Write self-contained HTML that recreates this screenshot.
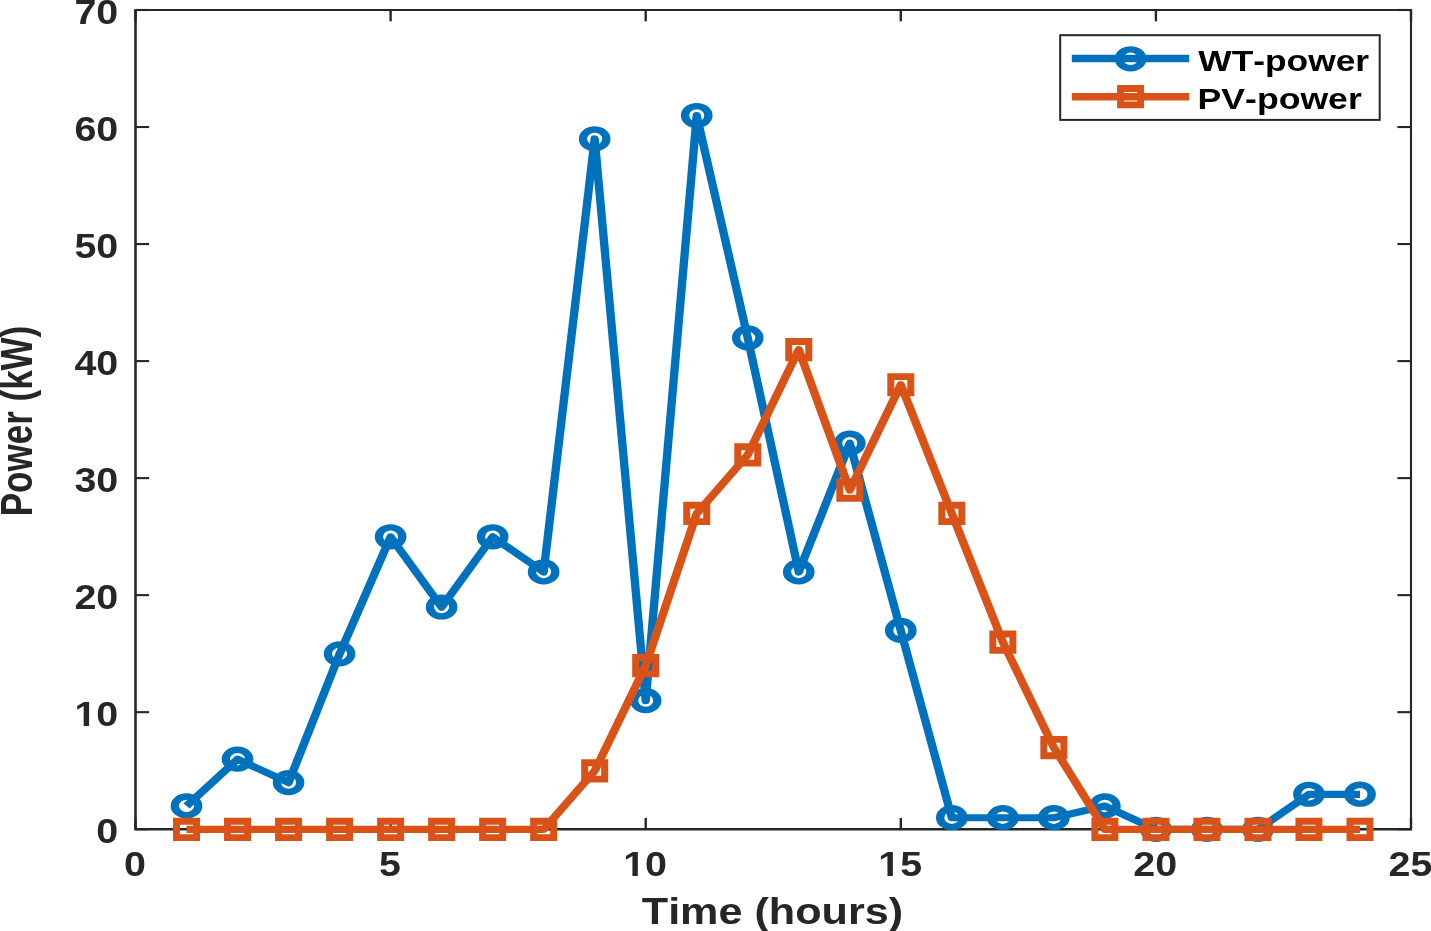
<!DOCTYPE html>
<html lang="en"><head><meta charset="utf-8"><title>WT-power and PV-power</title>
<style>html,body{margin:0;padding:0;background:#fff;overflow:hidden}svg{display:block}</style></head>
<body>
<svg width="1431" height="931" viewBox="0 0 1431 931">
<rect x="0" y="0" width="1431" height="931" fill="#ffffff"/>
<g stroke="#262626" fill="none" stroke-linecap="butt">
<line x1="134.25" y1="10.0" x2="1412.0" y2="10.0" stroke-width="2.2"/>
<line x1="134.25" y1="829.2" x2="1412.0" y2="829.2" stroke-width="2.5"/>
<line x1="135.5" y1="10.0" x2="135.5" y2="829.2" stroke-width="2.6"/>
<line x1="1411.0" y1="10.0" x2="1411.0" y2="829.2" stroke-width="2.1"/>
<line x1="135.50" y1="829.2" x2="135.50" y2="817.9000000000001" stroke-width="2.4"/>
<line x1="135.50" y1="10.0" x2="135.50" y2="21.3" stroke-width="2.4"/>
<line x1="390.60" y1="829.2" x2="390.60" y2="817.9000000000001" stroke-width="2.4"/>
<line x1="390.60" y1="10.0" x2="390.60" y2="21.3" stroke-width="2.4"/>
<line x1="645.70" y1="829.2" x2="645.70" y2="817.9000000000001" stroke-width="2.4"/>
<line x1="645.70" y1="10.0" x2="645.70" y2="21.3" stroke-width="2.4"/>
<line x1="900.80" y1="829.2" x2="900.80" y2="817.9000000000001" stroke-width="2.4"/>
<line x1="900.80" y1="10.0" x2="900.80" y2="21.3" stroke-width="2.4"/>
<line x1="1155.90" y1="829.2" x2="1155.90" y2="817.9000000000001" stroke-width="2.4"/>
<line x1="1155.90" y1="10.0" x2="1155.90" y2="21.3" stroke-width="2.4"/>
<line x1="1411.00" y1="829.2" x2="1411.00" y2="817.9000000000001" stroke-width="2.4"/>
<line x1="1411.00" y1="10.0" x2="1411.00" y2="21.3" stroke-width="2.4"/>
<line x1="135.5" y1="829.20" x2="149.1" y2="829.20" stroke-width="2.1"/>
<line x1="1411.0" y1="829.20" x2="1397.4" y2="829.20" stroke-width="2.1"/>
<line x1="135.5" y1="712.17" x2="149.1" y2="712.17" stroke-width="2.1"/>
<line x1="1411.0" y1="712.17" x2="1397.4" y2="712.17" stroke-width="2.1"/>
<line x1="135.5" y1="595.14" x2="149.1" y2="595.14" stroke-width="2.1"/>
<line x1="1411.0" y1="595.14" x2="1397.4" y2="595.14" stroke-width="2.1"/>
<line x1="135.5" y1="478.11" x2="149.1" y2="478.11" stroke-width="2.1"/>
<line x1="1411.0" y1="478.11" x2="1397.4" y2="478.11" stroke-width="2.1"/>
<line x1="135.5" y1="361.09" x2="149.1" y2="361.09" stroke-width="2.1"/>
<line x1="1411.0" y1="361.09" x2="1397.4" y2="361.09" stroke-width="2.1"/>
<line x1="135.5" y1="244.06" x2="149.1" y2="244.06" stroke-width="2.1"/>
<line x1="1411.0" y1="244.06" x2="1397.4" y2="244.06" stroke-width="2.1"/>
<line x1="135.5" y1="127.03" x2="149.1" y2="127.03" stroke-width="2.1"/>
<line x1="1411.0" y1="127.03" x2="1397.4" y2="127.03" stroke-width="2.1"/>
<line x1="135.5" y1="10.00" x2="149.1" y2="10.00" stroke-width="2.1"/>
<line x1="1411.0" y1="10.00" x2="1397.4" y2="10.00" stroke-width="2.1"/>
</g>
<defs><clipPath id="nofoot" clipPathUnits="userSpaceOnUse"><rect x="-5" y="-45" width="24.58" height="40.88"/><rect x="8.22" y="-4.16" width="4.83" height="7.16"/><rect x="19.58" y="-45" width="58.73" height="60"/></clipPath></defs>
<g fill="#262626" font-family="Liberation Sans, Arial, Helvetica, sans-serif" font-weight="bold" font-size="35.2">
<g transform="translate(134.90 875.90) scale(1.12 1)"><g transform="translate(-9.79 0)"><text x="0" y="0">0</text></g></g>
<g transform="translate(390.00 875.90) scale(1.12 1)"><g transform="translate(-9.79 0)"><text x="0" y="0">5</text></g></g>
<g transform="translate(645.10 875.90) scale(1.12 1)"><g transform="translate(-19.58 0)" clip-path="url(#nofoot)"><text x="0" y="0">10</text></g></g>
<g transform="translate(900.20 875.90) scale(1.12 1)"><g transform="translate(-19.58 0)" clip-path="url(#nofoot)"><text x="0" y="0">15</text></g></g>
<g transform="translate(1155.30 875.90) scale(1.12 1)"><g transform="translate(-19.58 0)"><text x="0" y="0">20</text></g></g>
<g transform="translate(1410.40 875.90) scale(1.12 1)"><g transform="translate(-19.58 0)"><text x="0" y="0">25</text></g></g>
<g transform="translate(118.30 843.05) scale(1.12 1)"><g transform="translate(-19.58 0)"><text x="0" y="0">0</text></g></g>
<g transform="translate(118.30 726.02) scale(1.12 1)"><g transform="translate(-39.15 0)" clip-path="url(#nofoot)"><text x="0" y="0">10</text></g></g>
<g transform="translate(118.30 608.99) scale(1.12 1)"><g transform="translate(-39.15 0)"><text x="0" y="0">20</text></g></g>
<g transform="translate(118.30 491.96) scale(1.12 1)"><g transform="translate(-39.15 0)"><text x="0" y="0">30</text></g></g>
<g transform="translate(118.30 374.94) scale(1.12 1)"><g transform="translate(-39.15 0)"><text x="0" y="0">40</text></g></g>
<g transform="translate(118.30 257.91) scale(1.12 1)"><g transform="translate(-39.15 0)"><text x="0" y="0">50</text></g></g>
<g transform="translate(118.30 140.88) scale(1.12 1)"><g transform="translate(-39.15 0)"><text x="0" y="0">60</text></g></g>
<g transform="translate(118.30 23.85) scale(1.12 1)"><g transform="translate(-39.15 0)"><text x="0" y="0">70</text></g></g>
</g>
<g fill="#262626" font-family="Liberation Sans, Arial, Helvetica, sans-serif" font-weight="bold" font-size="35.0" style="font-kerning:none">
<text transform="translate(772.4 923.6) scale(1.233 1.07)" text-anchor="middle">Time (hours)</text>
<text transform="translate(31.9 421.0) scale(1.27 1) rotate(-90)" text-anchor="middle">Power (kW)</text>
</g>
<g transform="scale(1.16 1)"><polyline points="160.79,806.04 204.78,759.23 248.76,782.64 292.74,653.91 336.72,536.88 380.71,607.10 424.69,536.88 468.67,571.99 512.66,138.98 556.64,700.72 600.62,115.58 644.60,337.93 688.59,571.99 732.57,443.26 776.55,630.50 820.53,817.75 864.52,817.75 908.50,817.75 952.48,806.04 996.47,829.45 1040.45,829.45 1084.43,829.45 1128.41,794.34 1172.40,794.34" fill="none" stroke="#0072bd" stroke-width="7.2" stroke-linejoin="round" stroke-linecap="butt"/></g>
<path fill="#0072bd" fill-rule="evenodd" d="M170.67 805.94a15.85 12.6 0 1 0 31.7 0a15.85 12.6 0 1 0 -31.7 0zM179.02 805.94a7.5 6.25 0 1 0 15.0 0a7.5 6.25 0 1 0 -15.0 0z"/>
<path fill="#0072bd" fill-rule="evenodd" d="M221.69 759.13a15.85 12.6 0 1 0 31.7 0a15.85 12.6 0 1 0 -31.7 0zM230.04 759.13a7.5 6.25 0 1 0 15.0 0a7.5 6.25 0 1 0 -15.0 0z"/>
<path fill="#0072bd" fill-rule="evenodd" d="M272.71 782.54a15.85 12.6 0 1 0 31.7 0a15.85 12.6 0 1 0 -31.7 0zM281.06 782.54a7.5 6.25 0 1 0 15.0 0a7.5 6.25 0 1 0 -15.0 0z"/>
<path fill="#0072bd" fill-rule="evenodd" d="M323.73 653.81a15.85 12.6 0 1 0 31.7 0a15.85 12.6 0 1 0 -31.7 0zM332.08 653.81a7.5 6.25 0 1 0 15.0 0a7.5 6.25 0 1 0 -15.0 0z"/>
<path fill="#0072bd" fill-rule="evenodd" d="M374.75 536.78a15.85 12.6 0 1 0 31.7 0a15.85 12.6 0 1 0 -31.7 0zM383.10 536.78a7.5 6.25 0 1 0 15.0 0a7.5 6.25 0 1 0 -15.0 0z"/>
<path fill="#0072bd" fill-rule="evenodd" d="M425.77 607.00a15.85 12.6 0 1 0 31.7 0a15.85 12.6 0 1 0 -31.7 0zM434.12 607.00a7.5 6.25 0 1 0 15.0 0a7.5 6.25 0 1 0 -15.0 0z"/>
<path fill="#0072bd" fill-rule="evenodd" d="M476.79 536.78a15.85 12.6 0 1 0 31.7 0a15.85 12.6 0 1 0 -31.7 0zM485.14 536.78a7.5 6.25 0 1 0 15.0 0a7.5 6.25 0 1 0 -15.0 0z"/>
<path fill="#0072bd" fill-rule="evenodd" d="M527.81 571.89a15.85 12.6 0 1 0 31.7 0a15.85 12.6 0 1 0 -31.7 0zM536.16 571.89a7.5 6.25 0 1 0 15.0 0a7.5 6.25 0 1 0 -15.0 0z"/>
<path fill="#0072bd" fill-rule="evenodd" d="M578.83 138.88a15.85 12.6 0 1 0 31.7 0a15.85 12.6 0 1 0 -31.7 0zM587.18 138.88a7.5 6.25 0 1 0 15.0 0a7.5 6.25 0 1 0 -15.0 0z"/>
<path fill="#0072bd" fill-rule="evenodd" d="M629.85 700.62a15.85 12.6 0 1 0 31.7 0a15.85 12.6 0 1 0 -31.7 0zM638.20 700.62a7.5 6.25 0 1 0 15.0 0a7.5 6.25 0 1 0 -15.0 0z"/>
<path fill="#0072bd" fill-rule="evenodd" d="M680.87 115.48a15.85 12.6 0 1 0 31.7 0a15.85 12.6 0 1 0 -31.7 0zM689.22 115.48a7.5 6.25 0 1 0 15.0 0a7.5 6.25 0 1 0 -15.0 0z"/>
<path fill="#0072bd" fill-rule="evenodd" d="M731.89 337.83a15.85 12.6 0 1 0 31.7 0a15.85 12.6 0 1 0 -31.7 0zM740.24 337.83a7.5 6.25 0 1 0 15.0 0a7.5 6.25 0 1 0 -15.0 0z"/>
<path fill="#0072bd" fill-rule="evenodd" d="M782.91 571.89a15.85 12.6 0 1 0 31.7 0a15.85 12.6 0 1 0 -31.7 0zM791.26 571.89a7.5 6.25 0 1 0 15.0 0a7.5 6.25 0 1 0 -15.0 0z"/>
<path fill="#0072bd" fill-rule="evenodd" d="M833.93 443.16a15.85 12.6 0 1 0 31.7 0a15.85 12.6 0 1 0 -31.7 0zM842.28 443.16a7.5 6.25 0 1 0 15.0 0a7.5 6.25 0 1 0 -15.0 0z"/>
<path fill="#0072bd" fill-rule="evenodd" d="M884.95 630.40a15.85 12.6 0 1 0 31.7 0a15.85 12.6 0 1 0 -31.7 0zM893.30 630.40a7.5 6.25 0 1 0 15.0 0a7.5 6.25 0 1 0 -15.0 0z"/>
<path fill="#0072bd" fill-rule="evenodd" d="M935.97 817.65a15.85 12.6 0 1 0 31.7 0a15.85 12.6 0 1 0 -31.7 0zM944.32 817.65a7.5 6.25 0 1 0 15.0 0a7.5 6.25 0 1 0 -15.0 0z"/>
<path fill="#0072bd" fill-rule="evenodd" d="M986.99 817.65a15.85 12.6 0 1 0 31.7 0a15.85 12.6 0 1 0 -31.7 0zM995.34 817.65a7.5 6.25 0 1 0 15.0 0a7.5 6.25 0 1 0 -15.0 0z"/>
<path fill="#0072bd" fill-rule="evenodd" d="M1038.01 817.65a15.85 12.6 0 1 0 31.7 0a15.85 12.6 0 1 0 -31.7 0zM1046.36 817.65a7.5 6.25 0 1 0 15.0 0a7.5 6.25 0 1 0 -15.0 0z"/>
<path fill="#0072bd" fill-rule="evenodd" d="M1089.03 805.94a15.85 12.6 0 1 0 31.7 0a15.85 12.6 0 1 0 -31.7 0zM1097.38 805.94a7.5 6.25 0 1 0 15.0 0a7.5 6.25 0 1 0 -15.0 0z"/>
<path fill="#0072bd" fill-rule="evenodd" d="M1140.05 829.35a15.85 12.6 0 1 0 31.7 0a15.85 12.6 0 1 0 -31.7 0zM1148.40 829.35a7.5 6.25 0 1 0 15.0 0a7.5 6.25 0 1 0 -15.0 0z"/>
<path fill="#0072bd" fill-rule="evenodd" d="M1191.07 829.35a15.85 12.6 0 1 0 31.7 0a15.85 12.6 0 1 0 -31.7 0zM1199.42 829.35a7.5 6.25 0 1 0 15.0 0a7.5 6.25 0 1 0 -15.0 0z"/>
<path fill="#0072bd" fill-rule="evenodd" d="M1242.09 829.35a15.85 12.6 0 1 0 31.7 0a15.85 12.6 0 1 0 -31.7 0zM1250.44 829.35a7.5 6.25 0 1 0 15.0 0a7.5 6.25 0 1 0 -15.0 0z"/>
<path fill="#0072bd" fill-rule="evenodd" d="M1293.11 794.24a15.85 12.6 0 1 0 31.7 0a15.85 12.6 0 1 0 -31.7 0zM1301.46 794.24a7.5 6.25 0 1 0 15.0 0a7.5 6.25 0 1 0 -15.0 0z"/>
<path fill="#0072bd" fill-rule="evenodd" d="M1344.13 794.24a15.85 12.6 0 1 0 31.7 0a15.85 12.6 0 1 0 -31.7 0zM1352.48 794.24a7.5 6.25 0 1 0 15.0 0a7.5 6.25 0 1 0 -15.0 0z"/>
<g transform="scale(1.16 1)"><polyline points="160.79,829.45 204.78,829.45 248.76,829.45 292.74,829.45 336.72,829.45 380.71,829.45 424.69,829.45 468.67,829.45 512.66,770.94 556.64,665.61 600.62,513.47 644.60,454.96 688.59,349.63 732.57,490.07 776.55,384.74 820.53,513.47 864.52,642.20 908.50,747.53 952.48,829.45 996.47,829.45 1040.45,829.45 1084.43,829.45 1128.41,829.45 1172.40,829.45" fill="none" stroke="#d95319" stroke-width="7.2" stroke-linejoin="round" stroke-linecap="butt"/></g>
<path fill="#d95319" fill-rule="evenodd" d="M173.02 817.85h27.0v23.2h-27.0zM180.02 824.75h13.0v9.4h-13.0z"/>
<path fill="#d95319" fill-rule="evenodd" d="M224.04 817.85h27.0v23.2h-27.0zM231.04 824.75h13.0v9.4h-13.0z"/>
<path fill="#d95319" fill-rule="evenodd" d="M275.06 817.85h27.0v23.2h-27.0zM282.06 824.75h13.0v9.4h-13.0z"/>
<path fill="#d95319" fill-rule="evenodd" d="M326.08 817.85h27.0v23.2h-27.0zM333.08 824.75h13.0v9.4h-13.0z"/>
<path fill="#d95319" fill-rule="evenodd" d="M377.10 817.85h27.0v23.2h-27.0zM384.10 824.75h13.0v9.4h-13.0z"/>
<path fill="#d95319" fill-rule="evenodd" d="M428.12 817.85h27.0v23.2h-27.0zM435.12 824.75h13.0v9.4h-13.0z"/>
<path fill="#d95319" fill-rule="evenodd" d="M479.14 817.85h27.0v23.2h-27.0zM486.14 824.75h13.0v9.4h-13.0z"/>
<path fill="#d95319" fill-rule="evenodd" d="M530.16 817.85h27.0v23.2h-27.0zM537.16 824.75h13.0v9.4h-13.0z"/>
<path fill="#d95319" fill-rule="evenodd" d="M581.18 759.34h27.0v23.2h-27.0zM588.18 766.24h13.0v9.4h-13.0z"/>
<path fill="#d95319" fill-rule="evenodd" d="M632.20 654.01h27.0v23.2h-27.0zM639.20 660.91h13.0v9.4h-13.0z"/>
<path fill="#d95319" fill-rule="evenodd" d="M683.22 501.87h27.0v23.2h-27.0zM690.22 508.77h13.0v9.4h-13.0z"/>
<path fill="#d95319" fill-rule="evenodd" d="M734.24 443.36h27.0v23.2h-27.0zM741.24 450.26h13.0v9.4h-13.0z"/>
<path fill="#d95319" fill-rule="evenodd" d="M785.26 338.03h27.0v23.2h-27.0zM792.26 344.93h13.0v9.4h-13.0z"/>
<path fill="#d95319" fill-rule="evenodd" d="M836.28 478.47h27.0v23.2h-27.0zM843.28 485.37h13.0v9.4h-13.0z"/>
<path fill="#d95319" fill-rule="evenodd" d="M887.30 373.14h27.0v23.2h-27.0zM894.30 380.04h13.0v9.4h-13.0z"/>
<path fill="#d95319" fill-rule="evenodd" d="M938.32 501.87h27.0v23.2h-27.0zM945.32 508.77h13.0v9.4h-13.0z"/>
<path fill="#d95319" fill-rule="evenodd" d="M989.34 630.60h27.0v23.2h-27.0zM996.34 637.50h13.0v9.4h-13.0z"/>
<path fill="#d95319" fill-rule="evenodd" d="M1040.36 735.93h27.0v23.2h-27.0zM1047.36 742.83h13.0v9.4h-13.0z"/>
<path fill="#d95319" fill-rule="evenodd" d="M1091.38 817.85h27.0v23.2h-27.0zM1098.38 824.75h13.0v9.4h-13.0z"/>
<path fill="#d95319" fill-rule="evenodd" d="M1142.40 817.85h27.0v23.2h-27.0zM1149.40 824.75h13.0v9.4h-13.0z"/>
<path fill="#d95319" fill-rule="evenodd" d="M1193.42 817.85h27.0v23.2h-27.0zM1200.42 824.75h13.0v9.4h-13.0z"/>
<path fill="#d95319" fill-rule="evenodd" d="M1244.44 817.85h27.0v23.2h-27.0zM1251.44 824.75h13.0v9.4h-13.0z"/>
<path fill="#d95319" fill-rule="evenodd" d="M1295.46 817.85h27.0v23.2h-27.0zM1302.46 824.75h13.0v9.4h-13.0z"/>
<path fill="#d95319" fill-rule="evenodd" d="M1346.48 817.85h27.0v23.2h-27.0zM1353.48 824.75h13.0v9.4h-13.0z"/>
<rect x="1060.2" y="35.2" width="319.5" height="84.7" fill="#ffffff" stroke="#262626" stroke-width="2.0"/>
<line x1="1071.8" y1="58.5" x2="1189.2" y2="58.5" stroke="#0072bd" stroke-width="7.3"/>
<path fill="#0072bd" fill-rule="evenodd" d="M1114.75 58.80a15.85 12.6 0 1 0 31.7 0a15.85 12.6 0 1 0 -31.7 0zM1123.10 58.80a7.5 6.25 0 1 0 15.0 0a7.5 6.25 0 1 0 -15.0 0z"/>
<line x1="1071.8" y1="96.7" x2="1189.2" y2="96.7" stroke="#d95319" stroke-width="7.5"/>
<path fill="#d95319" fill-rule="evenodd" d="M1117.10 85.10h27.0v23.2h-27.0zM1124.10 92.00h13.0v9.4h-13.0z"/>
<g fill="#000000" font-family="Liberation Sans, Arial, Helvetica, sans-serif" font-weight="bold" font-size="30.3" style="font-kerning:none">
<text transform="translate(1198.3 70.75) scale(1.167 1)">WT-power</text>
<text transform="translate(1197.6 108.65) scale(1.175 1)">PV-power</text>
</g>
</svg>
</body></html>
